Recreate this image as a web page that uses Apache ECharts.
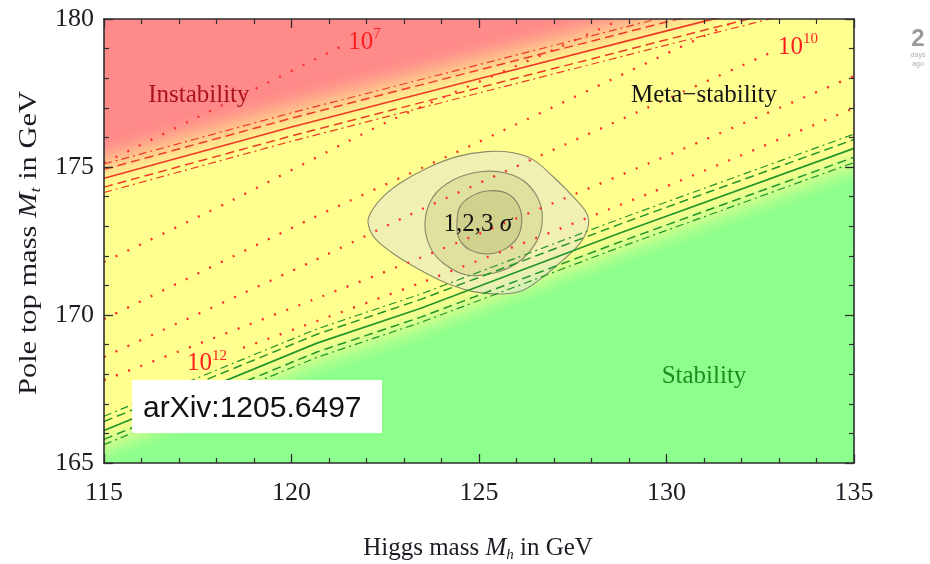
<!DOCTYPE html>
<html>
<head>
<meta charset="utf-8">
<script src="https://cdn.jsdelivr.net/npm/echarts@6/dist/echarts.min.js"></script>
<style>
  html, body { margin: 0; padding: 0; background: #ffffff; }
  #chart { width: 930px; height: 564px; }
</style>
</head>
<body>
<div id="chart"></div>
<script>
// ---- axis ranges (GeV) ----
const xRange = [115, 135];
const yRange = [165, 180];

// ---- instability / meta-stability boundary (central line) ----
const instabMh = [115, 120, 125, 130, 135];
const instabMt = [174.62, 176.35, 177.98, 179.60, 181.20];

// ---- meta-stability / stability boundary (central line) ----
const stabMh = [115, 120.68, 123.43, 128.76, 135];
const stabMt = [166.10, 169.05, 170.22, 172.77, 175.63];

// ---- instability scale contours, Lambda in GeV ----
const lam7Mh = [115, 118.15, 121.29];
const lam7Mt = [175.14, 177.09, 179.05];
const lam8Mh = [115, 118.44, 122.55, 126.97, 128.81];
const lam8Mt = [171.79, 173.89, 176.52, 178.95, 180.0];
const lam9Mh = [115, 120.57, 124.81, 130.89, 131.96];
const lam9Mt = [169.86, 173.28, 175.74, 179.36, 180.0];
const lam10Mh = [115, 120.57, 123.43, 129.48, 132.76];
const lam10Mt = [168.58, 171.82, 173.55, 177.0, 178.85];
const lam11Mh = [115, 120.57, 123.43, 129.56, 135];
const lam11Mt = [167.80, 170.51, 171.93, 175.14, 178.07];
const lam12Mh = [118.71, 123.43, 129.56, 135];
const lam12Mt = [168.89, 171.08, 174.12, 176.99];

// ---- experimental 1, 2, 3 sigma regions ----
const sig3Mh = [122.05, 122.36, 122.89, 123.61, 124.41, 125.21, 125.91, 126.45, 126.98, 127.51, 127.87, 127.91, 127.69, 127.25, 126.71, 126.18, 125.56, 124.85, 124.14, 123.43, 122.71, 122.27, 122.09];
const sig3Mt = [173.27, 173.89, 174.45, 174.96, 175.35, 175.52, 175.48, 175.24, 174.67, 174.00, 173.44, 172.98, 172.42, 171.86, 171.29, 170.84, 170.71, 170.79, 171.07, 171.52, 172.08, 172.53, 172.87];
const sig2Mh = [123.56, 123.78, 124.31, 125.03, 125.74, 126.27, 126.63, 126.67, 126.45, 126.01, 125.38, 124.67, 124.05, 123.69];
const sig2Mt = [173.15, 174.00, 174.56, 174.84, 174.79, 174.45, 173.77, 172.98, 172.31, 171.75, 171.41, 171.35, 171.75, 172.31];
const sig1Mh = [124.41, 124.49, 124.85, 125.29, 125.74, 126.05, 126.14, 126.01, 125.65, 125.21, 124.76, 124.49];
const sig1Mt = [172.98, 173.66, 174.05, 174.20, 174.11, 173.72, 173.15, 172.59, 172.20, 172.06, 172.20, 172.53];

// ---- text annotations ----
const regionNames = ['Instability', 'Meta\u2212stability', 'Stability'];
const regionMh = [117.53, 131.0, 131.0];
const regionMt = [177.43, 177.43, 167.91];
const regionColors = ['#a8141e', '#141414', '#1e8a22'];

const lamExp = ['7', '10', '12'];
const lamLabelMh = [121.51, 132.97, 117.21];
const lamLabelMt = [179.26, 179.09, 168.41];

const sigmaLabelMh = 124.97;
const sigmaLabelMt = 173.07;

// ---- colours ----
const YEL = [255, 255, 143];
const RED = [255, 138, 138];
const GRN = [141, 255, 141];
const SERIF = '"Liberation Serif", "DejaVu Serif", serif';

function mix(a, b, t) {
  return 'rgb(' + a.map((v, i) => Math.round(v + (b[i] - v) * t)).join(',') + ')';
}
function smoothstep(t) {
  t = Math.max(0, Math.min(1, t));
  return t * t * (3 - 2 * t);
}
function curve(mh, mt, off) {
  return mh.map((x, i) => [x, +(mt[i] + off).toFixed(3)]);
}

// Colour grading across each boundary, built as nested bands offset from the curve
const redDeltas = [];
for (let d = -0.45; d <= 1.4001; d += 0.04) redDeltas.push(+d.toFixed(3));
const redFills = redDeltas.map(d => mix(YEL, RED, smoothstep((d + 0.45) / 1.85)));
const grnDeltas = [];
for (let d = 0.25; d >= -1.3001; d -= 0.04) grnDeltas.push(+d.toFixed(3));
const grnFills = grnDeltas.map(d => mix(YEL, GRN, smoothstep((0.25 - d) / 1.55)));

function shadeSeries(mh, mt, deltas, fills, edgeMt) {
  return {
    type: 'custom',
    coordinateSystem: 'cartesian2d',
    clip: true,
    silent: true,
    animation: false,
    z: 1,
    data: deltas.map((d, i) => [d, i]),
    renderItem: function (params, api) {
      const d = api.value(0);
      const i = api.value(1);
      const pts = mh.map((x, j) => api.coord([x, mt[j] + d]));
      pts.push(api.coord([mh[mh.length - 1], edgeMt]));
      pts.push(api.coord([mh[0], edgeMt]));
      return { type: 'polygon', shape: { points: pts }, style: { fill: fills[i] } };
    }
  };
}

const sigmaRegions = [
  { mh: sig3Mh, mt: sig3Mt, fill: 'rgba(228,228,210,0.55)' },
  { mh: sig2Mh, mt: sig2Mt, fill: 'rgba(200,200,130,0.40)' },
  { mh: sig1Mh, mt: sig1Mt, fill: 'rgba(188,188,118,0.40)' }
];

const sigmaSeries = {
  type: 'custom',
  coordinateSystem: 'cartesian2d',
  clip: true,
  silent: true,
  animation: false,
  z: 2,
  data: sigmaRegions.map((r, i) => [i, i]),
  renderItem: function (params, api) {
    const r = sigmaRegions[api.value(0)];
    const pts = r.mh.map((x, j) => api.coord([x, r.mt[j]]));
    return {
      type: 'polygon',
      shape: { points: pts, smooth: 0.35 },
      style: { fill: r.fill, stroke: 'rgba(120,120,95,0.85)', lineWidth: 1.1 }
    };
  }
};

function boundarySeries(mh, mt, color) {
  const styles = [
    { off: 0, type: 'solid', w: 1.7 },
    { off: 0.3, type: [9, 5], w: 1.5 },
    { off: -0.3, type: [9, 5], w: 1.5 },
    { off: 0.48, type: [8, 4, 2, 4], w: 1.2 },
    { off: -0.48, type: [8, 4, 2, 4], w: 1.2 }
  ];
  return styles.map(s => ({
    type: 'line',
    data: curve(mh, mt, s.off),
    showSymbol: false,
    silent: true,
    animation: false,
    clip: true,
    z: 5,
    lineStyle: { color: color, width: s.w, type: s.type }
  }));
}

const contourSets = [
  [lam7Mh, lam7Mt], [lam8Mh, lam8Mt], [lam9Mh, lam9Mt],
  [lam10Mh, lam10Mt], [lam11Mh, lam11Mt], [lam12Mh, lam12Mt]
];
const contourSeries = contourSets.map(([mh, mt]) => ({
  type: 'line',
  data: curve(mh, mt, 0),
  showSymbol: false,
  silent: true,
  animation: false,
  clip: true,
  smooth: 0.2,
  z: 4,
  lineStyle: { color: '#ff2b2b', width: 2.3, type: [2, 11] }
}));

const axisColor = '#2e2e2e';
function valueAxis(range, position, showLabels) {
  return {
    type: 'value',
    min: range[0],
    max: range[1],
    interval: 5,
    position: position,
    z: 10,
    axisLine: { show: true, onZero: false, lineStyle: { color: axisColor, width: 1.6 } },
    axisTick: { show: true, inside: true, length: 9, lineStyle: { color: axisColor, width: 1.3 } },
    minorTick: { show: true, splitNumber: 5, length: 5, lineStyle: { color: axisColor, width: 1.2 } },
    splitLine: { show: false },
    minorSplitLine: { show: false },
    axisLabel: {
      show: showLabels,
      fontFamily: SERIF,
      fontSize: 26,
      color: '#1c1c24',
      margin: position === 'bottom' ? 17 : 10
    }
  };
}

const chart = echarts.init(document.getElementById('chart'), null, { renderer: 'canvas' });

chart.setOption({
  animation: false,
  grid: {
    left: 104, right: 76, top: 19, bottom: 101,
    show: true, backgroundColor: mix(YEL, YEL, 0), borderWidth: 0
  },
  xAxis: [valueAxis(xRange, 'bottom', true), valueAxis(xRange, 'top', false)],
  yAxis: [valueAxis(yRange, 'left', true), valueAxis(yRange, 'right', false)],
  series: [
    shadeSeries(instabMh, instabMt, redDeltas, redFills, 186),
    shadeSeries(stabMh, stabMt, grnDeltas, grnFills, 160),
    sigmaSeries
  ].concat(contourSeries)
   .concat(boundarySeries(instabMh, instabMt, '#ef3a26'))
   .concat(boundarySeries(stabMh, stabMt, '#23962b'))
});

const toPx = p => chart.convertToPixel({ gridIndex: 0 }, p);

function textEl(pos, text, font, fill, align, rich) {
  const style = {
    text: text, font: font, fill: fill,
    align: align, verticalAlign: 'middle',
    textAlign: align, textVerticalAlign: 'middle'
  };
  if (rich) style.rich = rich;
  return { type: 'text', x: pos[0], y: pos[1], z: 30, silent: true, style: style };
}

const graphics = [];

// region names
regionNames.forEach((name, i) => {
  graphics.push(textEl(toPx([regionMh[i], regionMt[i]]), name, '25px ' + SERIF, regionColors[i], 'center'));
});

// contour labels 10^n
lamExp.forEach((e, i) => {
  graphics.push(textEl(toPx([lamLabelMh[i], lamLabelMt[i]]), '{b|10}{s|' + e + '}', '24px ' + SERIF, '#ff1e1e', 'left', {
    b: { fontSize: 25, fontFamily: SERIF, fill: '#ff1e1e', lineHeight: 28, verticalAlign: 'bottom' },
    s: { fontSize: 15, fontFamily: SERIF, fill: '#ff1e1e', lineHeight: 28, verticalAlign: 'top' }
  }));
});

// sigma label
graphics.push(textEl(toPx([sigmaLabelMh, sigmaLabelMt]), '{n|1,2,3 }{g|\u03c3}', '25px ' + SERIF, '#111', 'center', {
  n: { fontSize: 25, fontFamily: SERIF, fill: '#111' },
  g: { fontSize: 25, fontFamily: SERIF, fontStyle: 'italic', fill: '#111' }
}));

// axis titles
const titleRich = {
  r: { fontSize: 25, fontFamily: SERIF, fill: '#1c1c24', lineHeight: 30, verticalAlign: 'middle' },
  i: { fontSize: 25, fontFamily: SERIF, fontStyle: 'italic', fill: '#1c1c24', lineHeight: 30, verticalAlign: 'middle' },
  sub: { fontSize: 15, fontFamily: SERIF, fontStyle: 'italic', fill: '#1c1c24', lineHeight: 30, verticalAlign: 'bottom' }
};
graphics.push(textEl([478, 548], '{r|Higgs mass }{i|M}{sub|h}{r| in GeV}', '25px ' + SERIF, '#1c1c24', 'center', titleRich));
const yTitle = textEl([29, 243], '{r|Pole top mass }{i|M}{sub|t}{r| in GeV}', '25px ' + SERIF, '#1c1c24', 'center', titleRich);
yTitle.rotation = Math.PI / 2;
yTitle.scaleX = 1.22;
graphics.push(yTitle);

// reference tag box
graphics.push({ type: 'rect', z: 25, silent: true, shape: { x: 132, y: 380, width: 250, height: 53 }, style: { fill: '#ffffff' } });
graphics.push(textEl([143, 409], 'arXiv:1205.6497', '30px "Liberation Sans", Arial, sans-serif', '#111111', 'left'));

// page timestamp at the right margin
graphics.push(textEl([918, 39], '2', 'bold 24px "Liberation Sans", sans-serif', '#9a9a9a', 'center'));
graphics.push(textEl([918, 55], 'days', '7px "Liberation Sans", sans-serif', '#b0b0b0', 'center'));
graphics.push(textEl([918, 64], 'ago', '7px "Liberation Sans", sans-serif', '#b0b0b0', 'center'));

chart.setOption({ graphic: graphics });
</script>
</body>
</html>
